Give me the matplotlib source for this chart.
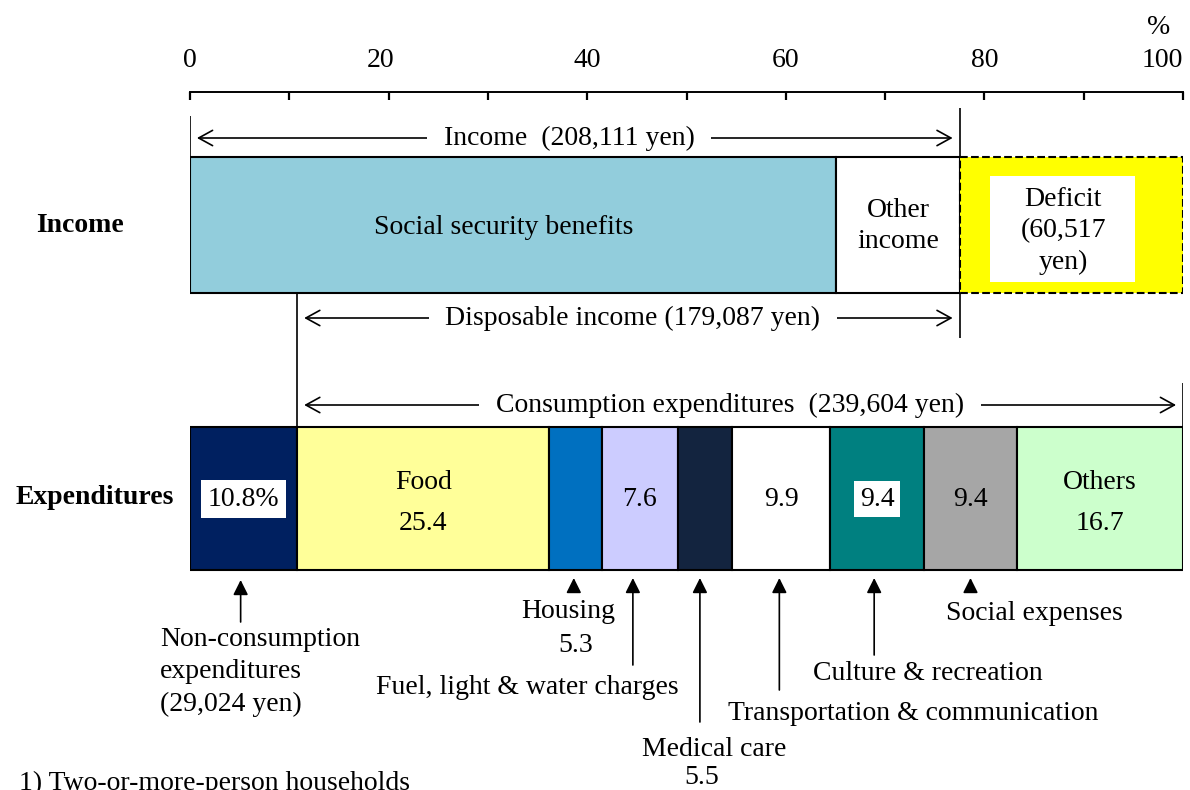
import numpy as np
import matplotlib
matplotlib.use('Agg')
import matplotlib.pyplot as plt
import matplotlib.transforms as mtransforms
from matplotlib.patches import Rectangle

plt.rcParams['font.family'] = ['Liberation Serif', 'DejaVu Serif']

# Data (shares of total expenditure, %)
income_labels = ['Social security benefits', 'Other\nincome', 'Deficit\n(60,517\nyen)']
income_shares = [65.1, 12.4, 22.5]
income_colors = ['#92CDDC', '#FFFFFF', '#FFFF00']

exp_labels = ['Non-consumption\nexpenditures\n(29,024 yen)', 'Food', 'Housing',
              'Fuel, light & water charges', 'Medical care',
              'Transportation & communication', 'Culture & recreation',
              'Social expenses', 'Others']
exp_shares = [10.8, 25.4, 5.3, 7.6, 5.5, 9.9, 9.4, 9.4, 16.7]
exp_colors = ['#002060', '#FFFF99', '#0070C0', '#CCCCFF', '#13243F',
              '#FFFFFF', '#008080', '#A6A6A6', '#CCFFCC']

income_yen = '208,111'
disposable_yen = '179,087'
consumption_yen = '239,604'

ticks_major = [0, 20, 40, 60, 80, 100]
ticks_minor = [10, 30, 50, 70, 90]

FS = 20

fig = plt.figure(figsize=(11.9, 7.9), dpi=100)
ax = fig.add_axes([190 / 1190, 0, 993 / 1190, (790 - 92) / 790])
ax.set_xlim(0, 100)
ax.set_ylim(790, 92)  # y in pixel rows, top at 92

for s in ['left', 'right', 'bottom']:
    ax.spines[s].set_visible(False)
ax.spines['top'].set_linewidth(1.4)
ax.xaxis.tick_top()
ax.set_xticks(ticks_major)
ax.set_xticks(ticks_minor, minor=True)
ax.set_xticklabels([str(t) for t in ticks_major])
ax.tick_params(which='both', direction='in', length=6, width=1.6,
               top=True, bottom=False, labelsize=FS, pad=14)
ax.set_yticks([])
labels = ax.get_xticklabels()
labels[1].set_transform(labels[1].get_transform() +
                        mtransforms.ScaledTranslation(-8 / 100, 0, fig.dpi_scale_trans))
labels[-1].set_horizontalalignment('right')
ax.text(97.5, 27, '%', fontsize=FS, ha='center', va='center')

# --- income bar ---
inc_y, inc_h = 225, 136
inc_left = np.concatenate([[0], np.cumsum(income_shares)[:-1]])
for i, (lft, w, c) in enumerate(zip(inc_left, income_shares, income_colors)):
    ls = '--' if i == 2 else '-'
    ax.barh(inc_y, w, left=lft, height=inc_h, color=c, edgecolor='black',
            linewidth=1.5, linestyle=ls, zorder=3)
income_end = inc_left[2]

ax.text(inc_left[0] + income_shares[0] / 2 - 1.0, 228, income_labels[0],
        fontsize=FS, ha='center', va='center', zorder=6)
ax.text(inc_left[1] + income_shares[1] / 2, 226, income_labels[1],
        fontsize=FS, ha='center', va='center', linespacing=1.3, zorder=6)
# white panel inside deficit
ax.add_patch(Rectangle((inc_left[2] + 3.1, 176), income_shares[2] - 7.9, 106,
                       facecolor='white', edgecolor='none', zorder=5))
ax.text(inc_left[2] + income_shares[2] / 2 - 0.8, 231, income_labels[2],
        fontsize=FS, ha='center', va='center', linespacing=1.35, zorder=6)

ax.text(-11.1, 225, 'Income', fontsize=FS, fontweight='bold',
        ha='center', va='center')

# --- expenditure bar ---
exp_y, exp_h = 498.5, 143
exp_left = np.concatenate([[0], np.cumsum(exp_shares)[:-1]])
exp_mid = exp_left + np.array(exp_shares) / 2
ax.barh(exp_y, exp_shares, left=exp_left, height=exp_h, color=exp_colors,
        edgecolor='black', linewidth=1.5, zorder=3)

ax.text(-9.6, 498, 'Expenditures', fontsize=FS, fontweight='bold',
        ha='center', va='center')

white_box = dict(boxstyle='square,pad=0.25', facecolor='white', edgecolor='none')
ax.text(exp_mid[0], 499, f'{exp_shares[0]}%', fontsize=FS, ha='center',
        va='center', bbox=white_box, zorder=6)
ax.text(exp_mid[1], 503, f'{exp_labels[1]}\n{exp_shares[1]}', fontsize=FS,
        ha='center', va='center', linespacing=1.8, zorder=6)
ax.text(exp_mid[3], 499, f'{exp_shares[3]}', fontsize=FS, ha='center',
        va='center', zorder=6)
ax.text(exp_mid[5], 499, f'{exp_shares[5]}', fontsize=FS, ha='center',
        va='center', zorder=6)
ax.text(exp_mid[6], 499, f'{exp_shares[6]}', fontsize=FS, ha='center',
        va='center', bbox=dict(boxstyle='square,pad=0.2', facecolor='white',
                               edgecolor='none'), zorder=6)
ax.text(exp_mid[7], 499, f'{exp_shares[7]}', fontsize=FS, ha='center',
        va='center', zorder=6)
ax.text(exp_mid[8], 503, f'{exp_labels[8]}\n{exp_shares[8]}', fontsize=FS,
        ha='center', va='center', linespacing=1.8, zorder=6)

# --- bracket lines ---
nc_end = exp_shares[0]
ax.vlines(0, 116, 157, color='black', lw=1.2)
ax.vlines(income_end, 108, 157, color='black', lw=1.2)
ax.vlines(income_end, 293, 338, color='black', lw=1.2)
ax.vlines(nc_end, 293, 427, color='black', lw=1.2)
ax.vlines(100, 383, 427, color='black', lw=1.2)

span_style = dict(arrowstyle='<->,head_length=1.0,head_width=0.55', lw=1.2,
                  color='black', shrinkA=5, shrinkB=5, mutation_scale=10)


def span(x0, x1, y, label, xt):
    ax.annotate('', xy=(x1, y), xytext=(x0, y), arrowprops=span_style, zorder=1)
    ax.text(xt, y, label, fontsize=FS, ha='center', va='center', zorder=2,
            bbox=dict(boxstyle='square,pad=0.6', facecolor='white',
                      edgecolor='none'))


span(0, income_end, 138, f'Income  ({income_yen} yen)', 38.2)
span(nc_end, income_end, 318, f'Disposable income ({disposable_yen} yen)', 44.6)
span(nc_end, 100, 405, f'Consumption expenditures  ({consumption_yen} yen)', 54.4)

# --- callouts below expenditure bar ---
call_style = dict(arrowstyle='-|>,head_length=0.9,head_width=0.45', lw=1.2,
                  color='black', shrinkA=0, shrinkB=0, mutation_scale=10)
tails = [622, 591, 665, 722, 690, 655, 591]
tips = [580, 578, 578, 578, 578, 578, 578]
offs = [-0.3, -0.2, -0.7, -0.5, -0.2, -0.3, 0.0]
for k, i in enumerate([0, 2, 3, 4, 5, 6, 7]):
    ax.annotate('', xy=(exp_mid[i] + offs[k], tips[k]),
                xytext=(exp_mid[i] + offs[k], tails[k]), arrowprops=call_style)

ax.text(-3.0, 672, exp_labels[0], fontsize=FS, ha='left', va='center',
        linespacing=1.37)
ax.text(38.1, 612, exp_labels[2], fontsize=FS, ha='center', va='center')
ax.text(38.8, 645, f'{exp_shares[2]}', fontsize=FS, ha='center', va='center')
ax.text(34.0, 688, exp_labels[3], fontsize=FS, ha='center', va='center')
ax.text(52.8, 750, exp_labels[4], fontsize=FS, ha='center', va='center')
ax.text(51.5, 777, f'{exp_shares[4]}', fontsize=FS, ha='center', va='center')
ax.text(72.8, 714, exp_labels[5], fontsize=FS, ha='center', va='center')
ax.text(74.3, 673, exp_labels[6], fontsize=FS, ha='center', va='center')
ax.text(85.0, 614, exp_labels[7], fontsize=FS, ha='center', va='center')

ax.text(-17.2, 771, '1) Two-or-more-person households', fontsize=FS,
        ha='left', va='top')

fig.savefig('out.png', dpi=100)
